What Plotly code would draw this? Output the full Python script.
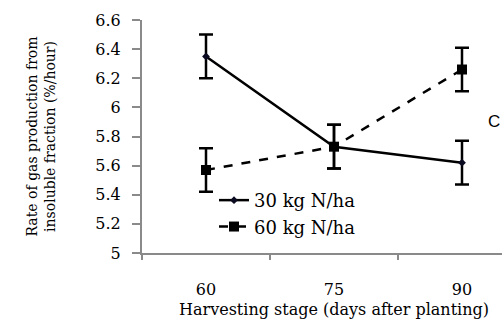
import plotly.graph_objects as go

stages = ["60", "75", "90"]
n30 = [6.35, 5.73, 5.62]
n30_err = [0.15, 0.15, 0.15]
n60 = [5.57, 5.73, 6.26]
n60_err = [0.15, 0.15, 0.15]
y_ticks = [5, 5.2, 5.4, 5.6, 5.8, 6, 6.2, 6.4, 6.6]

xpos = list(range(len(stages)))
serif = "DejaVu Serif"

fig = go.Figure()
fig.add_trace(go.Scatter(
    x=xpos, y=n30, name="30 kg N/ha", mode="lines+markers",
    line=dict(color="black", width=2.5),
    marker=dict(symbol="diamond", size=6, color="#0a0a20"),
    error_y=dict(type="data", array=n30_err, color="black", thickness=2.5, width=7),
))
fig.add_trace(go.Scatter(
    x=xpos, y=n60, name="60 kg N/ha", mode="lines+markers",
    line=dict(color="black", width=2.5, dash="dash"),
    marker=dict(symbol="square", size=10, color="black"),
    error_y=dict(type="data", array=n60_err, color="black", thickness=2.5, width=7),
))

L, R = 142, 502
fig.update_layout(
    width=502, height=322,
    margin=dict(l=L, r=0, t=20, b=69),
    plot_bgcolor="white", paper_bgcolor="white",
    font=dict(family=serif, size=15, color="black"),
    showlegend=True,
    legend=dict(x=(214 - L) / (R - L), y=0.305, xanchor="left", yanchor="top",
                bgcolor="rgba(0,0,0,0)", font=dict(family=serif, size=18),
                tracegroupgap=0, itemwidth=30),
    xaxis=dict(
        range=[-0.5, 2.3125], tickvals=xpos, ticktext=stages,
        ticks="outside", ticklen=21, tickcolor="rgba(0,0,0,0)",
        showgrid=False, zeroline=False,
        showline=True, linecolor="#8a8a8a", linewidth=2,
        tickfont=dict(family=serif, size=16),
        minor=dict(tickvals=[-0.5, 0.5, 1.5, 2.5], ticks="outside",
                   ticklen=5, tickcolor="#8a8a8a", tickwidth=2),
    ),
    yaxis=dict(
        range=[5, 6.6], tickvals=y_ticks,
        ticks="outside", ticklen=8, tickcolor="#8a8a8a", tickwidth=2,
        ticklabelstandoff=8,
        showgrid=False, zeroline=False,
        showline=True, linecolor="#8a8a8a", linewidth=2,
        tickfont=dict(family=serif, size=16),
    ),
)

fig.add_annotation(
    text="Rate of gas production from<br>insoluble fraction (%/hour)",
    textangle=-90, xref="paper", yref="paper",
    x=(40 - L) / (R - L), y=0.5, xanchor="center", yanchor="middle",
    showarrow=False, font=dict(family=serif, size=14),
)
fig.add_annotation(
    text="Harvesting stage (days after planting)",
    xref="x", yref="paper", x=1, y=-0.195, xanchor="center", yanchor="top",
    showarrow=False, font=dict(family=serif, size=16),
)
fig.add_annotation(
    text="C", xref="paper", yref="y",
    x=(494 - L) / (R - L), y=5.9, xanchor="center", yanchor="middle",
    showarrow=False, font=dict(family="Liberation Sans", size=17),
)

fig.write_html("out.html", config={"displayModeBar": False},
               post_script="document.body.style.margin='0';")
